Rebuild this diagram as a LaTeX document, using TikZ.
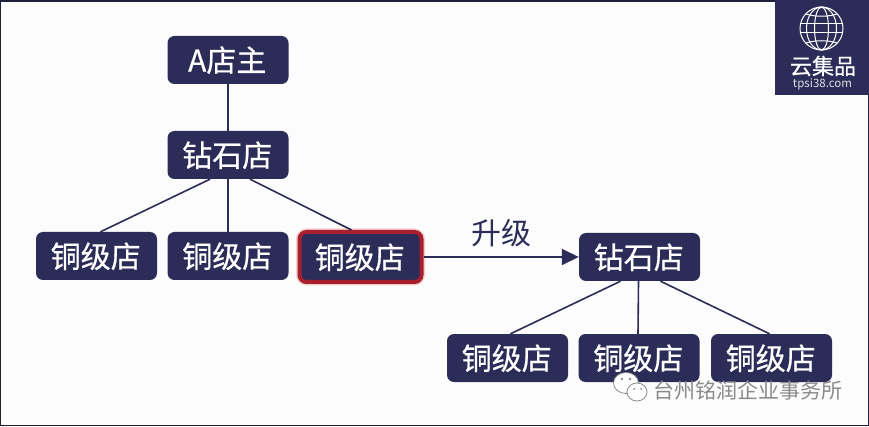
\documentclass[tikz,border=0pt]{standalone}
\usepackage{fontspec}
\setmainfont{Noto Sans CJK SC}
\newfontfamily\shopfont[FakeBold=0.5]{Noto Sans CJK SC}
\usetikzlibrary{arrows.meta}
\definecolor{shopnavy}{HTML}{2C2C58}
\definecolor{shopred}{HTML}{A8202F}
\definecolor{shopglow}{HTML}{F6CFCB}
\definecolor{markgray}{HTML}{8A8A8A}
\newcommand{\shoplabel}[1]{\hspace{-1.5pt}\raisebox{2pt}{#1}}
\tikzset{
  shop/.style={fill=shopnavy, rounded corners=7pt, text=white, inner sep=0pt,
    minimum width=121pt, minimum height=48pt,
    font=\shopfont\fontsize{30}{31}\selectfont, text depth=0pt},
  upgraded/.style={shop, minimum width=122pt, minimum height=50pt, draw=shopred,
    line width=4pt, preaction={draw=shopglow, line width=7pt}},
  link/.style={draw=shopnavy, line width=1.6pt},
  globeline/.style={draw=white, line width=1pt},
  bubble/.style={draw=markgray, fill=white, line width=.8pt}
}

\begin{document}
\begin{tikzpicture}[x=1pt,y=-1pt]
  \useasboundingbox (0,0) rectangle (869,427);
  \fill[white!99!black] (0,0) rectangle (869,427);
  \draw[shopnavy!70!black, line width=1.2pt] (.6,1) rectangle (868.2,425.6);

  \node [shop] (owner) at (228,60) {\shoplabel{A店主}};
  \node [shop] (diamondA) at (228,155) {\shoplabel{钻石店}};
  \node [shop] (bronzeA) at (96.5,256) {\shoplabel{铜级店}};
  \node [shop] (bronzeB) at (228,256) {\shoplabel{铜级店}};
  \node [upgraded] (bronzeC) at (360.5,257) {\shoplabel{铜级店}};

  \node [shop] (diamondB) at (639.5,257) {\shoplabel{钻石店}};
  \node [shop] (bronzeD) at (507.5,358) {\shoplabel{铜级店}};
  \node [shop] (bronzeE) at (639,358) {\shoplabel{铜级店}};
  \node [shop] (bronzeF) at (771.5,358) {\shoplabel{铜级店}};

  \draw[link] (owner) -- (diamondA);
  \draw[link] ([xshift=-18pt]diamondA.south) -- ([xshift=4pt]bronzeA.north);
  \draw[link] (diamondA) -- (bronzeB);
  \draw[link] ([xshift=22pt]diamondA.south) -- ([xshift=-9pt]bronzeC.north);

  \draw[link] ([xshift=-19pt]diamondB.south) -- ([xshift=3pt]bronzeD.north);
  \draw[link] ([xshift=-1pt]diamondB.south) -- ([xshift=-1pt]bronzeE.north);
  \draw[link] ([xshift=21pt]diamondB.south) -- ([xshift=-2pt]bronzeF.north);

  \draw[link, -{Triangle[length=17pt,width=16pt]}] (bronzeC) -- (diamondB);
  \node [text=shopnavy, font=\fontsize{30}{31}\selectfont] (upgrade) at (501,233) {升级};

  % logo corner
  \fill[shopnavy] (775,0) rectangle (869,95);
  \draw[globeline] (821.5,28.5) circle (21.5pt);
  \draw[globeline] (821.5,28.5) ellipse (7pt and 21.5pt);
  \draw[globeline] (821.5,28.5) ellipse (15pt and 21.5pt);
  \draw[globeline] (800.5,24) -- (842.5,24);
  \draw[globeline] (800.5,33) -- (842.5,33);
  \draw[globeline] (806,14) .. controls (815,17) and (828,17) .. (837,14);
  \draw[globeline] (806,43) .. controls (815,40) and (828,40) .. (837,43);
  \node [text=white, font=\shopfont\fontsize{22}{23}\selectfont, inner sep=0pt] (logoname) at (823,66) {云集品};
  \node [text=white!85!shopnavy, font=\fontsize{11.5}{12}\selectfont, inner sep=0pt] (logosite) at (822.5,84.5) {tpsi38.com};

  % watermark
  \draw[bubble] (626,383) ellipse (12.5pt and 10.5pt);
  \draw[bubble] (637,392) ellipse (10pt and 9pt);
  \fill[markgray] (622,379) circle (1.3pt) (630,379) circle (1.3pt);
  \fill[markgray] (634,389) circle (1pt) (641,389) circle (1pt);
  \node [text=markgray, font=\fontsize{21}{22}\selectfont, inner sep=0pt, anchor=west] (mark) at (653,390) {台州铭润企业事务所};
\end{tikzpicture}
\end{document}
